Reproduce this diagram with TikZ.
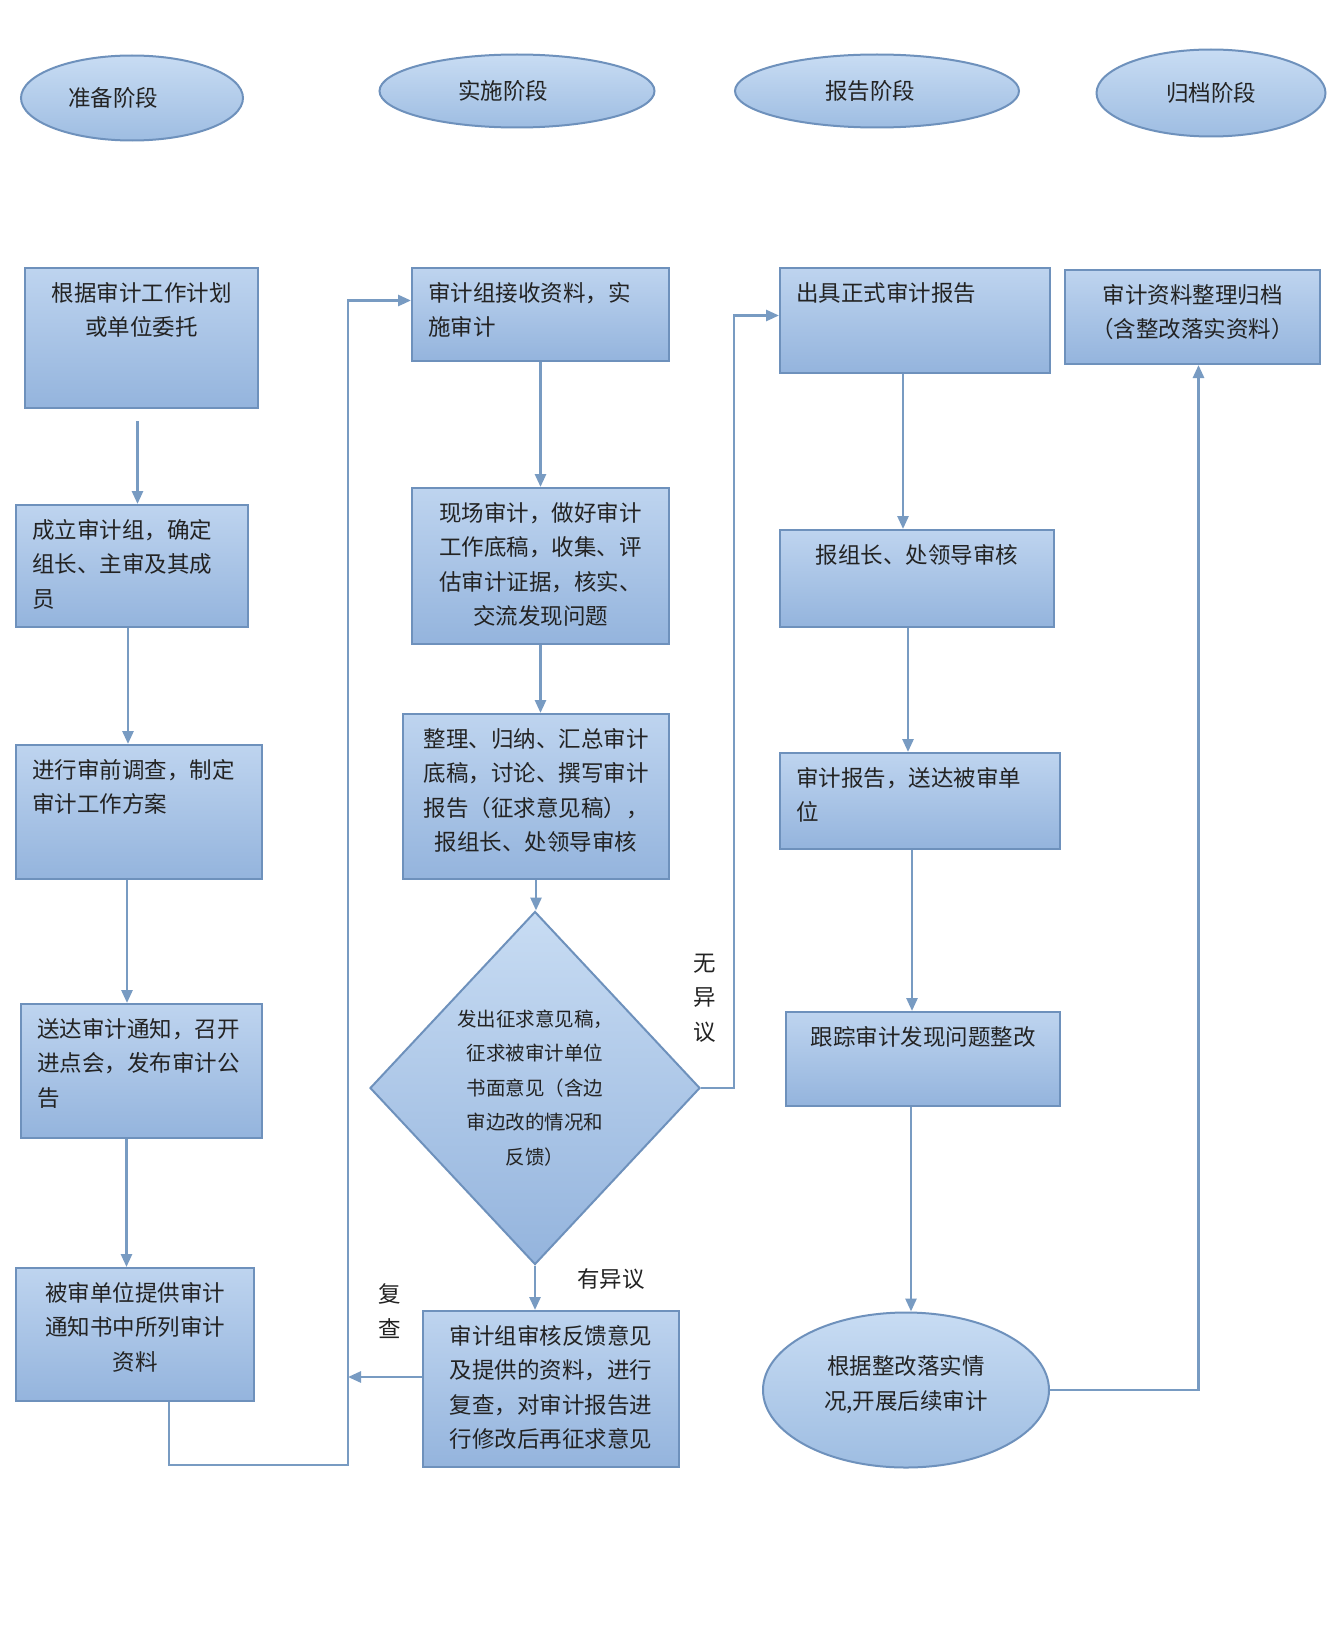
\documentclass[tikz,border=0pt]{standalone}
\usepackage{fontspec}
\newfontfamily\cjk{Noto Sans CJK SC}
\usetikzlibrary{shapes.geometric,arrows.meta,calc}
\definecolor{boxtop}{RGB}{190,212,239}
\definecolor{boxbot}{RGB}{148,180,221}
\definecolor{boxline}{RGB}{110,145,188}
\definecolor{arrowc}{RGB}{120,155,194}
\definecolor{elltop}{RGB}{200,220,243}
\definecolor{ellbot}{RGB}{158,189,226}
\definecolor{txt}{RGB}{35,35,35}
\tikzset{
  every node/.style={text=txt, font=\cjk\fontsize{22.5}{34.6}\selectfont},
  box/.style={draw=boxline, line width=2pt, top color=boxtop, bottom color=boxbot, inner sep=0pt},
  phase/.style={ellipse, draw=boxline, line width=2pt, top color=elltop, bottom color=ellbot, inner sep=0pt, align=center},
  decide/.style={diamond, draw=boxline, line width=2pt, top color=elltop, bottom color=boxbot, inner sep=0pt, align=center,
    font=\cjk\fontsize{19.5}{34.6}\selectfont},
  arr/.style={draw=arrowc, line width=2.7pt, -{Triangle[length=13pt,width=11pt]}},
  lbl/.style={align=center, inner sep=0pt},
}
\newcommand\fbx[7]{\node[box,minimum width=#4pt,minimum height=#5pt,anchor=north west] (#1) at (#2,#3)
  {\parbox[c][\dimexpr#5pt-28pt\relax][t]{\dimexpr#4pt-32pt\relax}{#6#7}};}
\newcommand\shiftx[2]{\hspace*{#1pt}#2}
\begin{document}
\begin{tikzpicture}[x=1pt,y=-1pt]
\useasboundingbox (0,0) rectangle (1326,1643);
\fill[white] (0,0) rectangle (1326,1643);

% phase ellipses
\node[phase, minimum width=222pt, minimum height=85pt] (e1) at (132,98) {\shiftx{-38}{准备阶段}};
\node[phase, minimum width=275pt, minimum height=73pt] (e2) at (517,91) {\shiftx{-28}{实施阶段}};
\node[phase, minimum width=284pt, minimum height=73pt] (e3) at (877,91) {\shiftx{-14}{报告阶段}};
\node[phase, minimum width=229pt, minimum height=87pt] (e4) at (1211,93) {归档阶段};

% column 1
\fbx{b1}{24}{267}{233}{140}{\centering}{根据审计工作计划\\或单位委托}
\fbx{b2}{15}{504}{232}{122}{\raggedright}{成立审计组，确定\\组长、主审及其成\\员}
\fbx{b3}{15}{744}{246}{134}{\raggedright}{进行审前调查，制定\\审计工作方案}
\fbx{b4}{20}{1003}{241}{134}{\raggedright}{送达审计通知，召开\\进点会，发布审计公\\告}
\fbx{b5}{15}{1267}{238}{133}{\centering}{被审单位提供审计\\通知书中所列审计\\资料}

% column 2
\fbx{c1}{411}{267}{257}{93}{\raggedright}{审计组接收资料，实\\施审计}
\fbx{c2}{411}{487}{257}{156}{\centering}{现场审计，做好审计\\工作底稿，收集、评\\估审计证据，核实、\\交流发现问题}
\fbx{c3}{402}{713}{266}{165}{\centering}{整理、归纳、汇总审计\\底稿，讨论、撰写审计\\报告（征求意见稿），\\报组长、处领导审核}
\node[decide, minimum width=330pt, minimum height=353pt] (dia) at (535,1088)
  {发出征求意见稿，\\征求被审计单位\\书面意见（含边\\审边改的情况和\\反馈）};
\fbx{c5}{422}{1310}{256}{156}{\centering}{审计组审核反馈意见\\及提供的资料，进行\\复查，对审计报告进\\行修改后再征求意见}

% column 3
\fbx{d1}{779}{267}{270}{105}{\raggedright}{出具正式审计报告}
\fbx{d2}{779}{529}{274}{97}{\centering}{报组长、处领导审核}
\fbx{d3}{779}{752}{280}{96}{\raggedright}{审计报告，送达被审单\\位}
\fbx{d4}{785}{1011}{274}{94}{\centering}{跟踪审计发现问题整改}
\node[phase, minimum width=286pt, minimum height=155pt] (eE) at (906,1390) {根据整改落实情\\况,开展后续审计\\[-20pt]};

% column 4
\fbx{f1}{1064}{269}{255}{94}{\centering}{审计资料整理归档\\（含整改落实资料）}

% labels
\node[lbl] (lno) at (705,998) {无\\异\\议};
\node[lbl] (lyes) at (611,1279) {有异议};
\node[lbl] (lre) at (390,1311) {复\\查};

% helper coordinates
\coordinate (loopB) at (348,1465);
\coordinate (noR) at (734,1088);

% connectors column 1
\draw[arr] ([xshift=-4pt,yshift=-12pt]b1.south) -- ([xshift=-4pt]b1.south |- b2.north);
\draw[arr] ([xshift=-4pt]b2.south) -- ([xshift=-4pt]b2.south |- b3.north);
\draw[arr] ([xshift=-12pt]b3.south) -- ([xshift=-12pt]b3.south |- b4.north);
\draw[arr] ([xshift=-15pt]b4.south) -- ([xshift=-15pt]b4.south |- b5.north);
\draw[arr] ([xshift=34pt]b5.south) |- (loopB) |- ([yshift=14pt]c1.west);

% connectors column 2
\draw[arr] (c1.south) -- (c1.south |- c2.north);
\draw[arr] (c2.south) -- (c2.south |- c3.north);
\draw[arr] (c3.south) -- (c3.south |- dia.north);
\draw[arr] (dia.south) -- (dia.south |- c5.north);
\draw[arr] ([yshift=12pt]c5.west) -- ([yshift=12pt]c5.west -| loopB);
\draw[arr] (dia.east) -- (noR) |- ([yshift=5pt]d1.west);

% connectors column 3
\draw[arr] ([xshift=-12pt]d1.south) -- ([xshift=-12pt]d1.south |- d2.north);
\draw[arr] ([xshift=-9pt]d2.south) -- ([xshift=-9pt]d2.south |- d3.north);
\draw[arr] ([xshift=-8pt]d3.south) -- ([xshift=-8pt]d3.south |- d4.north);
\draw[arr] ([xshift=-12pt]d4.south) -- ([xshift=-12pt]d4.south |- eE.north);
\draw[arr] (eE.east) -| ([xshift=6pt]f1.south);
\end{tikzpicture}
\end{document}
